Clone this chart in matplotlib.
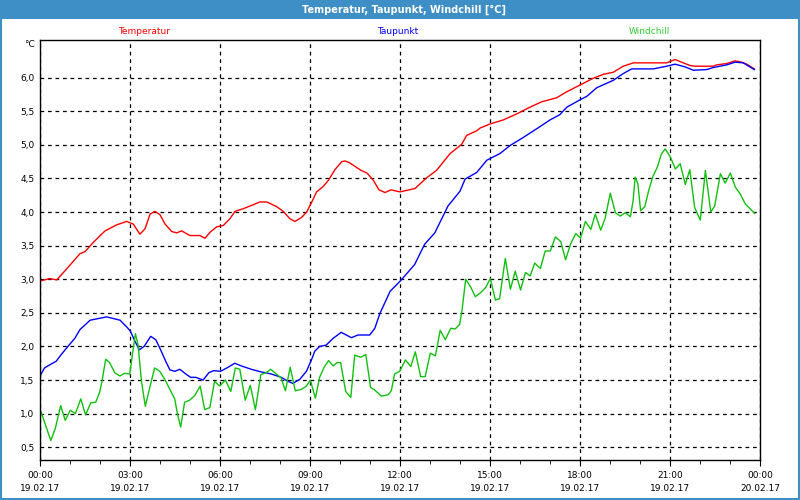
import matplotlib
matplotlib.use('Agg')
import matplotlib.pyplot as plt
from matplotlib.patches import Rectangle
from matplotlib.ticker import MultipleLocator

# Hours since 19.02.17 00:00 and values
temp_h = [0.0, 0.06, 0.33, 0.56, 0.78, 1.0, 1.33, 1.5, 1.78, 2.17, 2.56, 2.89, 3.11, 3.33, 3.5,
          3.67, 3.83, 4.0, 4.17, 4.39, 4.56, 4.72, 5.0, 5.33, 5.5, 5.67, 5.89, 6.11, 6.33, 6.5,
          6.78, 7.06, 7.33, 7.56, 7.89, 8.11, 8.33, 8.5, 8.72, 8.89, 9.06, 9.22, 9.44, 9.61, 9.83,
          10.06, 10.17, 10.33, 10.5, 10.7, 10.9, 11.1, 11.3, 11.5, 11.7, 11.9, 12.0, 12.5, 12.89,
          13.22, 13.67, 14.06, 14.22, 14.56, 14.67, 15.0, 15.44, 15.89, 16.33, 16.72, 17.22, 17.56,
          18.0, 18.44, 18.78, 19.11, 19.44, 19.78, 20.56, 20.89, 21.17, 21.33, 21.67, 21.83, 22.44,
          22.56, 22.89, 23.17, 23.39, 23.56, 23.81]
temp_v = [2.97, 2.98, 3.01, 2.99, 3.10, 3.21, 3.38, 3.41, 3.55, 3.72, 3.81, 3.86, 3.82, 3.67, 3.75,
          3.97, 4.01, 3.96, 3.82, 3.71, 3.69, 3.72, 3.65, 3.65, 3.61, 3.70, 3.78, 3.80, 3.90, 4.01,
          4.05, 4.10, 4.15, 4.15, 4.08, 4.01, 3.90, 3.86, 3.92, 4.00, 4.15, 4.30, 4.38, 4.47, 4.63,
          4.75, 4.76, 4.73, 4.68, 4.62, 4.58, 4.48, 4.33, 4.29, 4.33, 4.31, 4.30, 4.35, 4.51,
          4.62, 4.87, 5.01, 5.14, 5.21, 5.25, 5.31, 5.37, 5.46, 5.56, 5.64, 5.70, 5.79,
          5.89, 5.99, 6.05, 6.08, 6.17, 6.22, 6.22, 6.22, 6.27, 6.24, 6.18, 6.17, 6.17,
          6.19, 6.21, 6.25, 6.23, 6.20, 6.13]

dew_h = [0.0, 0.15, 0.38, 0.54, 0.71, 0.93, 1.16, 1.33, 1.67, 2.22, 2.67, 2.89, 3.01, 3.14, 3.31,
         3.47, 3.69, 3.86, 4.02, 4.19, 4.33, 4.5, 4.66, 4.86, 5.02, 5.19, 5.44, 5.63, 5.79, 6.02,
         6.27, 6.49, 6.71, 7.04, 7.38, 7.71, 8.04, 8.27, 8.43, 8.66, 8.88, 9.04, 9.16, 9.32, 9.54,
         9.77, 10.04, 10.21, 10.38, 10.6, 10.99, 11.16, 11.33, 11.67, 12.0, 12.16, 12.49, 12.82,
         13.16, 13.6, 14.0, 14.17, 14.56, 14.89, 15.33, 15.67, 16.11, 16.56, 17.0, 17.33, 17.56,
         18.0, 18.22, 18.56, 19.11, 19.44, 19.72, 20.44, 20.89, 21.17, 21.5, 21.78, 22.22, 22.44,
         22.89, 23.17, 23.44, 23.81]
dew_v = [1.56, 1.68, 1.74, 1.78, 1.88, 2.00, 2.12, 2.25, 2.39, 2.44, 2.39, 2.29, 2.23, 2.10, 1.95,
         2.00, 2.15, 2.10, 1.95, 1.78, 1.65, 1.63, 1.66, 1.59, 1.54, 1.54, 1.50, 1.61, 1.64, 1.63,
         1.69, 1.75, 1.71, 1.66, 1.62, 1.59, 1.54, 1.48, 1.45, 1.51, 1.63, 1.79, 1.93, 2.00, 2.02,
         2.12, 2.21, 2.17, 2.13, 2.17, 2.17, 2.27, 2.49, 2.82, 2.97, 3.05, 3.22, 3.52,
         3.69, 4.09, 4.31, 4.49, 4.59, 4.77, 4.87, 4.99, 5.11, 5.24, 5.37, 5.45, 5.56,
         5.67, 5.72, 5.85, 5.96, 6.06, 6.13, 6.13, 6.17, 6.20, 6.16, 6.11, 6.12, 6.15,
         6.19, 6.23, 6.22, 6.12]

wc_h = [0.0, 0.36, 0.51, 0.69, 0.84, 1.01, 1.18, 1.36, 1.52, 1.69, 1.86, 1.99, 2.07, 2.19, 2.32,
        2.49, 2.66, 2.82, 2.99, 3.08, 3.18, 3.27, 3.38, 3.51, 3.66, 3.82, 3.99, 4.16, 4.32, 4.49,
        4.58, 4.69, 4.82, 4.99, 5.16, 5.34, 5.49, 5.66, 5.82, 5.99, 6.18, 6.36, 6.51, 6.66, 6.84,
        7.01, 7.18, 7.36, 7.54, 7.69, 7.88, 8.04, 8.18, 8.34, 8.51, 8.71, 8.88, 9.01, 9.18, 9.32,
        9.47, 9.62, 9.77, 9.9, 10.02, 10.19, 10.36, 10.49, 10.69, 10.86, 11.02, 11.16, 11.38, 11.6,
        11.71, 11.82, 11.99, 12.18, 12.36, 12.51, 12.69, 12.84, 13.01, 13.18, 13.34, 13.51, 13.69,
        13.84, 13.99, 14.07, 14.19, 14.36, 14.51, 14.69, 14.86, 15.01, 15.18, 15.32, 15.51, 15.68,
        15.84, 16.02, 16.18, 16.34, 16.49, 16.68, 16.84, 17.01, 17.18, 17.36, 17.52, 17.69, 17.86,
        18.02, 18.18, 18.36, 18.51, 18.69, 18.84, 19.01, 19.18, 19.34, 19.51, 19.68, 19.77, 19.84,
        19.93, 20.02, 20.16, 20.29, 20.43, 20.58, 20.71, 20.84, 21.01, 21.18, 21.34, 21.51, 21.66,
        21.82, 22.01, 22.18, 22.36, 22.49, 22.68, 22.84, 23.01, 23.18, 23.34, 23.51, 23.69, 23.82]
wc_v = [1.07, 0.60, 0.78, 1.12, 0.90, 1.05, 1.00, 1.22, 0.98, 1.16, 1.17, 1.32, 1.49, 1.81, 1.76,
        1.61, 1.56, 1.60, 1.59, 1.88, 2.19, 2.02, 1.49, 1.11, 1.39, 1.68, 1.63, 1.51, 1.37, 1.22,
        1.00, 0.80, 1.17, 1.20, 1.27, 1.41, 1.06, 1.09, 1.48, 1.41, 1.50, 1.33, 1.68, 1.66, 1.20,
        1.42, 1.06, 1.58, 1.61, 1.66, 1.59, 1.53, 1.34, 1.69, 1.34, 1.36, 1.41, 1.50, 1.23, 1.54,
        1.69, 1.79, 1.71, 1.76, 1.76, 1.33, 1.24, 1.87, 1.84, 1.88, 1.39, 1.35, 1.26, 1.28,
        1.34, 1.59, 1.63, 1.80, 1.70, 1.92, 1.55, 1.55, 1.90, 1.86, 2.24, 2.10, 2.27,
        2.26, 2.33, 2.55, 3.00, 2.88, 2.74, 2.80, 2.88, 3.01, 2.69, 2.71, 3.31, 2.85,
        3.12, 2.84, 3.10, 3.05, 3.24, 3.16, 3.42, 3.42, 3.63, 3.56, 3.29, 3.53, 3.68,
        3.61, 3.86, 3.74, 3.97, 3.73, 3.91, 4.28, 3.99, 3.94, 3.99, 3.93, 4.17, 4.52,
        4.42, 4.02, 4.08, 4.32, 4.53, 4.67, 4.86, 4.94, 4.82, 4.64, 4.72, 4.41, 4.63,
        4.07, 3.88, 4.62, 4.00, 4.09, 4.57, 4.43, 4.58, 4.37, 4.27, 4.12, 4.04, 3.98]

tick_hours = [0, 3, 6, 9, 12, 15, 18, 21, 24]
tick_labels = ['00:00\n19.02.17', '03:00\n19.02.17', '06:00\n19.02.17', '09:00\n19.02.17',
               '12:00\n19.02.17', '15:00\n19.02.17', '18:00\n19.02.17', '21:00\n19.02.17',
               '00:00\n20.02.17']
y_ticks = [0.5, 1.0, 1.5, 2.0, 2.5, 3.0, 3.5, 4.0, 4.5, 5.0, 5.5, 6.0]
y_labels = ['0,5', '1,0', '1,5', '2,0', '2,5', '3,0', '3,5', '4,0', '4,5', '5,0', '5,5', '6,0']

bar_blue = '#3d8fc6'
fig = plt.figure(figsize=(8, 5), dpi=100, facecolor='white')
ax = fig.add_axes([0.05, 0.08, 0.90, 0.84])

ax.plot(temp_h, temp_v, color='#ff0000', lw=1)
ax.plot(dew_h, dew_v, color='#0000ff', lw=1)
ax.plot(wc_h, wc_v, color='#11c011', lw=1)

ax.set_xlim(0, 24)
ax.set_ylim(0.31, 6.56)
ax.set_xticks(tick_hours)
ax.set_xticklabels(tick_labels, fontsize=6.5, linespacing=1.55)
ax.xaxis.set_minor_locator(MultipleLocator(1))
ax.set_yticks(y_ticks)
ax.set_yticklabels(y_labels)
ax.tick_params(axis='y', length=0, labelsize=6.5, pad=4)
ax.tick_params(axis='x', which='major', length=4, pad=4)
ax.tick_params(axis='x', which='minor', length=3)
ax.grid(True, color='black', linestyle=(0, (3, 3)), lw=0.9)
for s in ax.spines.values():
    s.set_color('black')
    s.set_linewidth(1)

# title bar and frame
fig.patches.append(Rectangle((0, 0.962), 1, 0.038, transform=fig.transFigure,
                             facecolor=bar_blue, edgecolor='none', zorder=0))
fig.patches.append(Rectangle((0.001, 0.002), 0.998, 0.997, transform=fig.transFigure,
                             facecolor='none', edgecolor=bar_blue, lw=1.5))
fig.text(0.505, 0.981, 'Temperatur, Taupunkt, Windchill [°C]', color='white',
         fontsize=7, fontweight='bold', ha='center', va='center')
fig.text(0.18, 0.938, 'Temperatur', color='#ff0000', fontsize=6.5, ha='center', va='center')
fig.text(0.497, 0.938, 'Taupunkt', color='#0000ff', fontsize=6.5, ha='center', va='center')
fig.text(0.812, 0.938, 'Windchill', color='#33cc33', fontsize=6.5, ha='center', va='center')
fig.text(0.043, 0.911, '°C', color='black', fontsize=6.5, ha='right', va='center')

plt.savefig('out.png', dpi=100, facecolor='white')
